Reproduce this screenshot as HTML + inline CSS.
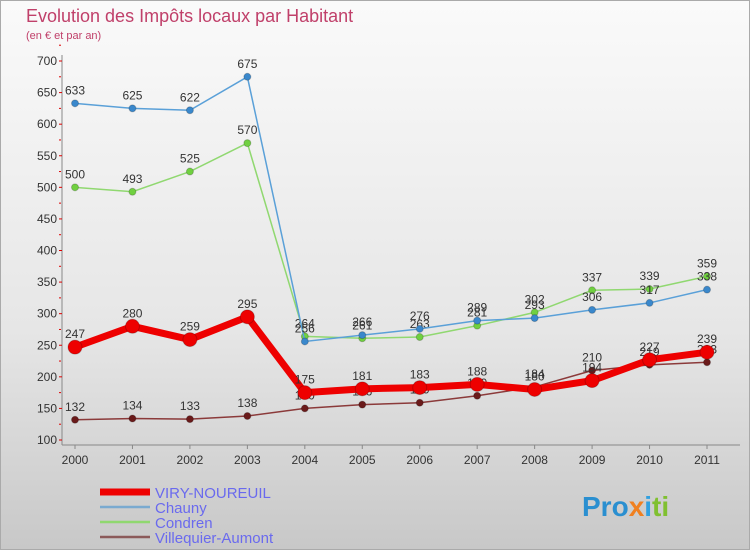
<!DOCTYPE html>
<html><head><meta charset="utf-8"><style>
body{margin:0;width:750px;height:550px;overflow:hidden;font-family:"Liberation Sans",sans-serif}
#c{position:absolute;left:0;top:0;width:748px;height:548px;border:1px solid #aaa;background:linear-gradient(#fafafa,#e6e6e6 60%,#c8c8c8)}
</style></head><body>
<div id="c"></div>
<svg id="s" width="750" height="550" style="position:absolute;left:0;top:0">
<text x="26" y="22" font-size="18" fill="#c0406a">Evolution des Impôts locaux par Habitant</text>
<text x="26" y="39" font-size="11" fill="#c0406a">(en € et par an)</text>
<g id="axes"></g><g id="series"></g><g id="legend"></g>
<text x="582" y="516" font-size="28" font-weight="bold" fill="#2a8fd0">Pro<tspan fill="#f08020">x</tspan><tspan fill="#30a0e0">i</tspan><tspan fill="#80c030">ti</tspan></text>
</svg>
<script>
const years=[2000,2001,2002,2003,2004,2005,2006,2007,2008,2009,2010,2011];
const yTicks=[100,150,200,250,300,350,400,450,500,550,600,650,700];
const viry=[247,280,259,295,175,181,183,188,180,194,227,239];
const chauny=[633,625,622,675,256,266,276,289,293,306,317,338];
const condren=[500,493,525,570,264,261,263,281,302,337,339,359];
const villequier=[132,134,133,138,150,156,159,170,184,210,219,223];
const NS="http://www.w3.org/2000/svg";
const X=i=>75+i*(632/11), Y=v=>440-(v-100)*(379/600);
function mk(t,a,p){const e=document.createElementNS(NS,t);for(const k in a)e.setAttribute(k,a[k]);(p||document.getElementById('axes')).appendChild(e);return e;}
let l=mk('line',{x1:62,y1:55,x2:62,y2:445,stroke:'#888'});

l=mk('line',{x1:62,y1:445,x2:740,y2:445,stroke:'#888'});

yTicks.forEach(v=>{const t=mk('text',{x:57,y:Y(v)+4,'font-size':12,fill:'#333','text-anchor':'end'});t.textContent=v;

mk('line',{x1:59,y1:Y(v),x2:62,y2:Y(v),stroke:'#d00'});mk('line',{x1:59,y1:Y(v+25),x2:61,y2:Y(v+25),stroke:'#d00'});});
years.forEach((y,i)=>{const t=mk('text',{x:X(i),y:464,'font-size':12,fill:'#333','text-anchor':'middle'});t.textContent=y;

mk('line',{x1:X(i),y1:445,x2:X(i),y2:449,stroke:'#888'});});
const sg=document.getElementById('series');
function series(d,color,w,r,name,dot){
 const p=mk('polyline',{points:d.map((v,i)=>X(i)+','+Y(v)).join(' '),fill:'none',stroke:color,'stroke-width':w},sg);
 
 d.forEach((v,i)=>{const c=mk('circle',{cx:X(i),cy:Y(v),r:r,fill:dot,stroke:'#0003'},sg);
 
 const t=mk('text',{x:X(i),y:Y(v)-9,'font-size':12,fill:'#333','text-anchor':'middle'},sg);t.textContent=v;
 });
}
series(villequier,'#8b3a3a',1.5,3.5,'villequier','#6a1a1a');
series(condren,'#90d870',1.5,3.5,'condren','#70d040');
series(chauny,'#5aa0d8',1.5,3.5,'chauny','#3a88cc');
series(viry,'#ee0000',7,7,'viry','#ee0000');
const lg=document.getElementById('legend');
[['VIRY-NOUREUIL','#ee0000',7],['Chauny','#7aaad0',2.5],['Condren','#90d870',2.5],['Villequier-Aumont','#8b5a5a',2.5]].forEach((e,i)=>{
 const y=492+i*15;
 const ln=mk('line',{x1:100,y1:y,x2:150,y2:y,stroke:e[1],'stroke-width':e[2]},lg);
 
 const t=mk('text',{x:155,y:y+6,'font-size':15,fill:'#6a6aee'},lg);t.textContent=e[0];
 });
</script>
</body></html>
